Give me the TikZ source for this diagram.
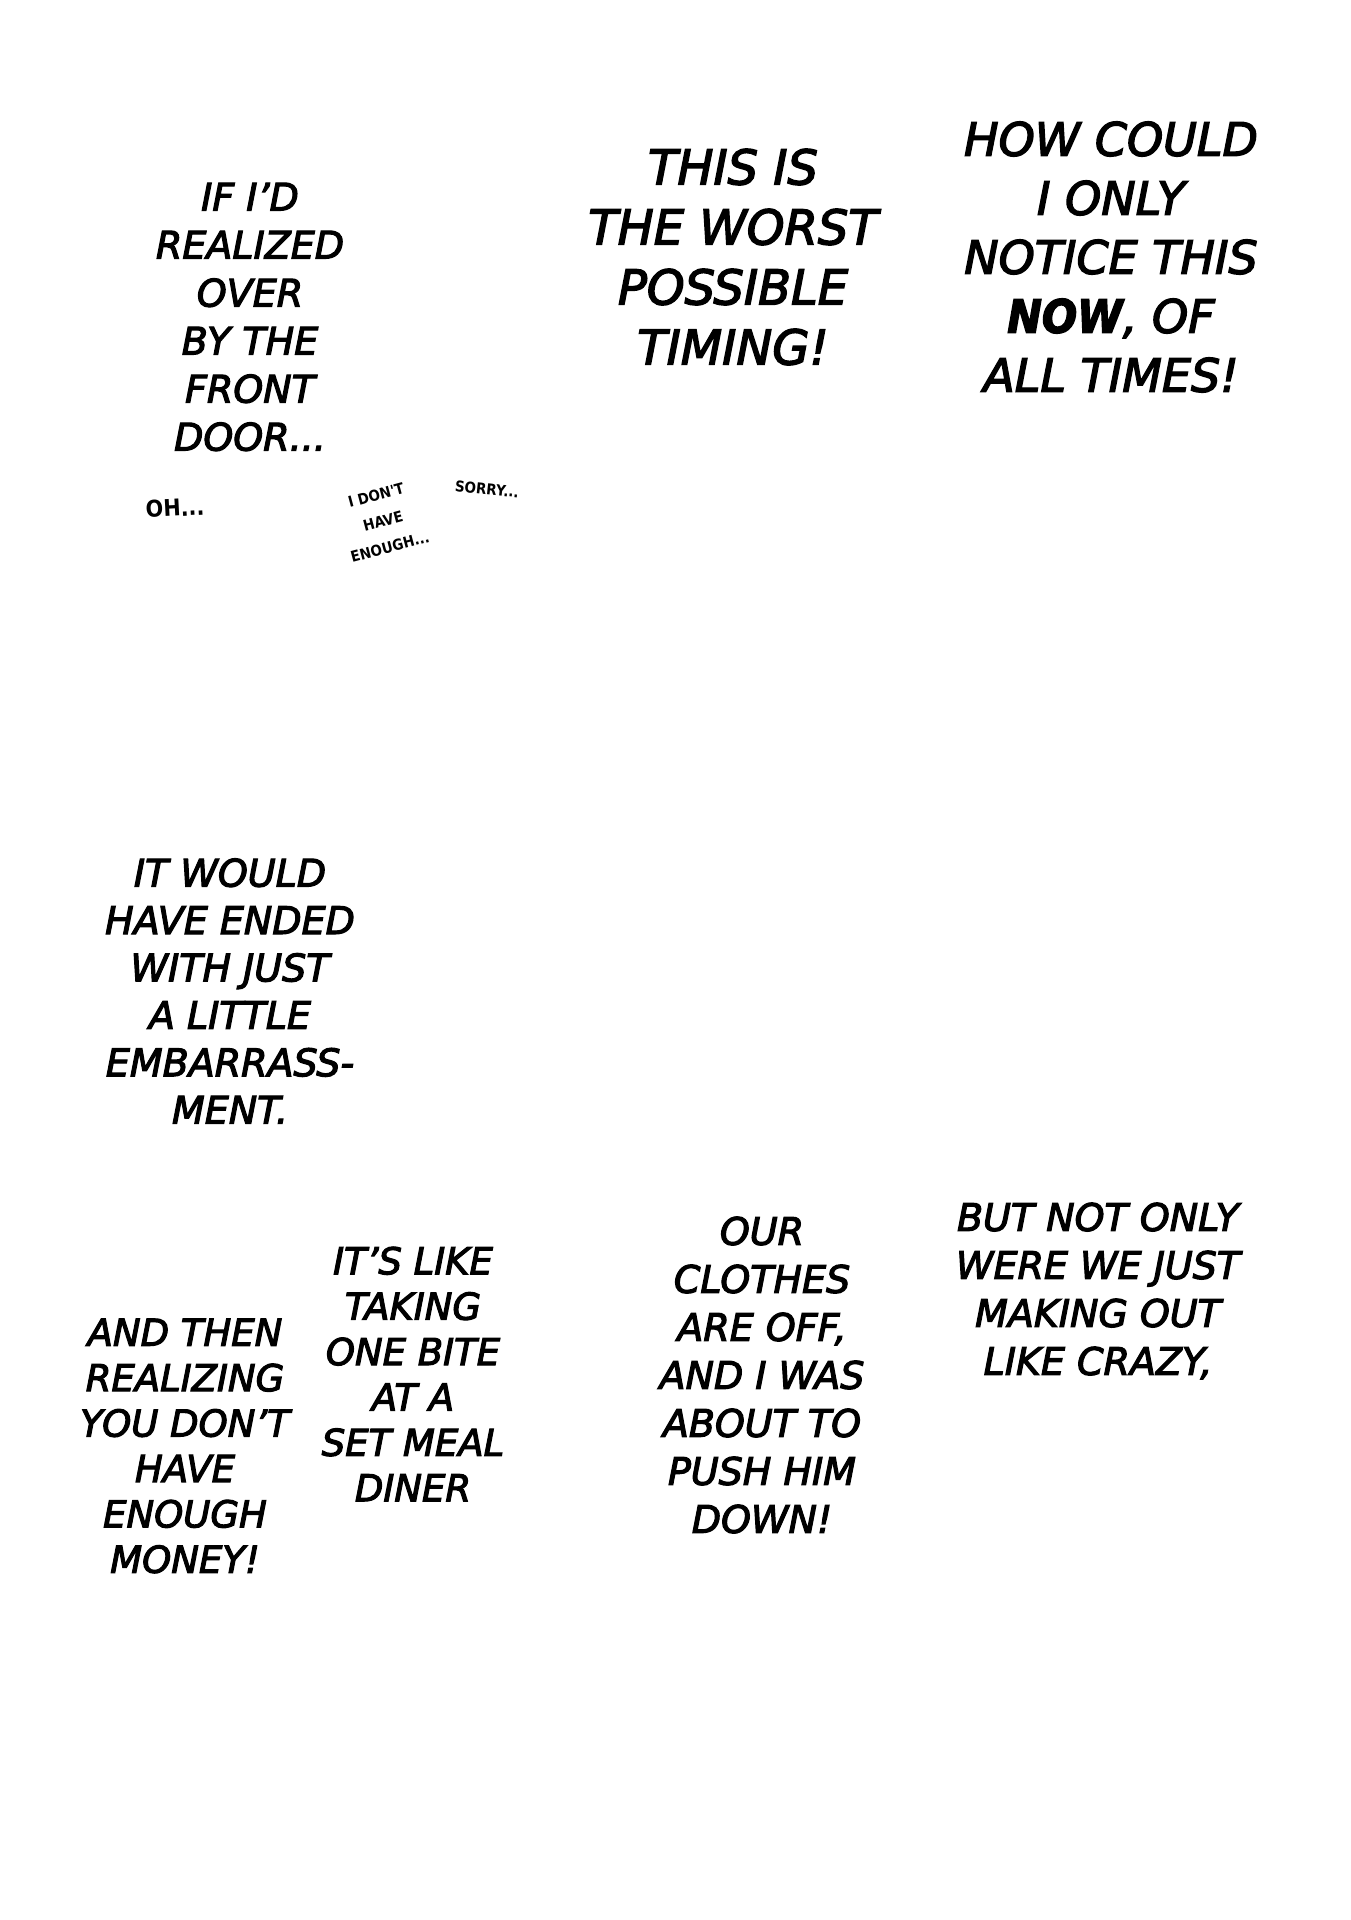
\documentclass[tikz,border=0pt]{standalone}
\usepackage{fontspec}
\setmainfont{DejaVu Sans}[ItalicFeatures={FakeBold=3}, BoldItalicFeatures={FakeBold=3, FakeStretch=0.9}]
\newfontfamily\handfont{DejaVu Sans Bold}[FakeStretch=0.9]
\usepackage{tikz}
\usetikzlibrary{positioning}
\tikzset{%
	caption/.style = {align=center, inner sep=0pt, font=\itshape\fontsize{19}{24}\selectfont}, % Narration
	shout/.style   = {caption, font=\itshape\fontsize{24}{30}\selectfont}, % Big narration
	mumble/.style  = {align=center, inner sep=0pt, font=\handfont\fontsize{7.5}{13.4}\selectfont}, % Small talk
}

\begin{document}
\begin{tikzpicture}[x=0.5pt,y=-0.5pt]
	\fill[white] (0,0) rectangle (1350,1920);
	\useasboundingbox (0,0) rectangle (1350,1920);
	
	\node [caption] (door) at (250,317) {IF I'D\\REALIZED\\OVER\\BY THE\\FRONT\\DOOR...};
	\node [shout] (worst) at (733,257) {THIS IS\\THE WORST\\POSSIBLE\\TIMING!};
	\node [shout,font=\itshape\fontsize{23}{29.5}\selectfont] (times) at (1111,257) {HOW COULD\\I ONLY\\NOTICE THIS\\\textbf{NOW}, OF\\ALL TIMES!};
	
	\node [mumble,font=\handfont\fontsize{11.5}{14}\selectfont,rotate=3] (oh) at (175,508) {OH...};
	\node [mumble,rotate=15] (enough) at (383,521) {I DON'T\\HAVE\\ENOUGH...};
	\node [mumble,rotate=-6] (sorry) at (487,489) {SORRY...};
	
	\node [caption,font=\itshape\fontsize{19}{23.7}\selectfont] (ended) at (230,991) {IT WOULD\\HAVE ENDED\\WITH JUST\\A LITTLE\\EMBARRASS-\\MENT.};
	
	\node [caption,font=\itshape\fontsize{18.5}{22.7}\selectfont] (money) at (185,1446) {AND THEN\\REALIZING\\YOU DON'T\\HAVE\\ENOUGH\\MONEY!};
	\node [caption,font=\itshape\fontsize{18.5}{22.7}\selectfont] (diner) at (413,1374) {IT'S LIKE\\TAKING\\ONE BITE\\AT A\\SET MEAL\\DINER};
	\node [caption] (clothes) at (762,1375) {OUR\\CLOTHES\\ARE OFF,\\AND I WAS\\ABOUT TO\\PUSH HIM\\DOWN!};
	\node [caption] (crazy) at (1098,1291) {BUT NOT ONLY\\WERE WE JUST\\MAKING OUT\\LIKE CRAZY,};
\end{tikzpicture}
\end{document}
